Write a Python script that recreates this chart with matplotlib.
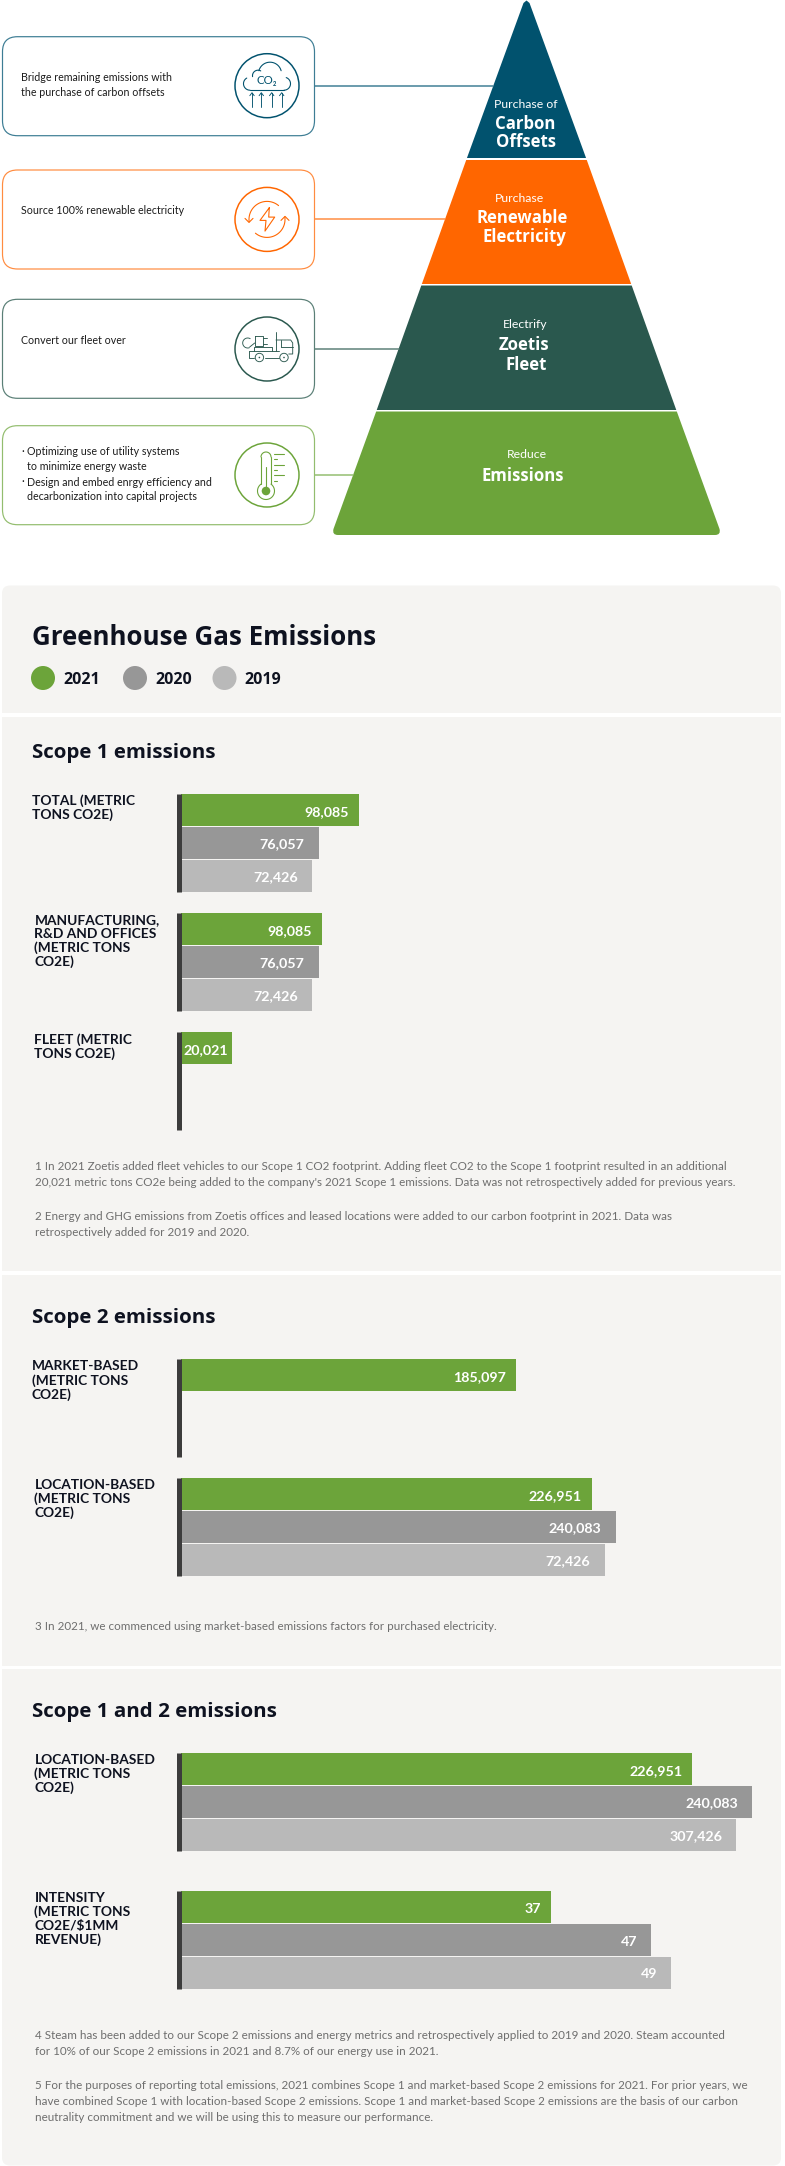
import numpy as np
import matplotlib
matplotlib.use('Agg')
import matplotlib.pyplot as plt
from matplotlib.patches import FancyBboxPatch, Circle, Polygon, PathPatch, Rectangle
from matplotlib.path import Path

W, H = 785, 2166

years = ['2021', '2020', '2019']
year_colors = ['#6ca43a', '#979797', '#b9b9b9']

# bar lengths are read off the picture, printed labels do not always agree with them
s1_total = [98085, 76057, 72426]
s1_total_labels = ['98,085', '76,057', '72,426']
s1_mfg = [78000, 76057, 72426]
s1_mfg_labels = ['98,085', '76,057', '72,426']
s1_fleet = [28200]
s1_fleet_labels = ['20,021']
s2_market = [185097]
s2_market_labels = ['185,097']
s2_location = [226951, 240083, 234000]
s2_location_labels = ['226,951', '240,083', '72,426']
s12_location = [282500, 315500, 306700]
s12_location_labels = ['226,951', '240,083', '307,426']
s12_intensity = [37, 47, 49]
s12_intensity_labels = ['37', '47', '49']

TEAL, ORANGE, DGREEN, GREEN = '#01526e', '#ff6600', '#2a584e', '#6ca43a'
INK = '#0e1220'
NOTE = '#6e6e6e'
PANEL = '#f5f4f2'
HEAD = 'Open Sans'
BODY = 'Lato'


def fs(p):
    return p * 0.72


fig = plt.figure(figsize=(W / 100, H / 100), dpi=100, facecolor='white')
bg = fig.add_axes([0, 0, 1, 1])
bg.set_xlim(0, W)
bg.set_ylim(H, 0)
bg.axis('off')


def line(xs, ys, color, lw=1.1, **kw):
    bg.plot(xs, ys, color=color, lw=fs(lw), solid_capstyle='round', **kw)


def arc(cx, cy, r, a0, a1, color, lw=1.1):
    t = np.radians(np.linspace(a0, a1, 50))
    line(cx + r * np.cos(t), cy - r * np.sin(t), color, lw)


def rbox(x0, y0, x1, y1, r, fc, ec='none', lw=1.2):
    bg.add_patch(FancyBboxPatch((x0 + r, y0 + r), x1 - x0 - 2 * r, y1 - y0 - 2 * r,
                                boxstyle=f'round,pad={r},rounding_size={r}',
                                fc=fc, ec=ec, lw=fs(lw)))


# pyramid
APEX_X = 526.5


def edge(y):
    return 3 + 0.358 * y


def layer(y0, y1, color):
    bg.add_patch(Polygon([(APEX_X - edge(y0), y0), (APEX_X + edge(y0), y0),
                          (APEX_X + edge(y1), y1), (APEX_X - edge(y1), y1)],
                         fc=color, ec='none'))


# top layer has a slightly rounded tip
bg.add_patch(Polygon([(APEX_X - 3, 3), (APEX_X, 0.5), (APEX_X + 3, 3), (APEX_X + edge(158), 158),
                      (APEX_X - edge(158), 158)], fc=TEAL, ec='none'))
layer(160, 284, ORANGE)
layer(285.5, 410, DGREEN)

xl0, xr0 = APEX_X - edge(411.5), APEX_X + edge(411.5)
xl1, xr1 = APEX_X - edge(535), APEX_X + edge(535)
verts = [(xl0, 411.5), (xr0, 411.5), (xr1 - 1.5, 529), (xr1, 535), (xr1 - 6, 535),
         (xl1 + 6, 535), (xl1, 535), (xl1 + 1.5, 529), (xl0, 411.5)]
codes = [Path.MOVETO, Path.LINETO, Path.LINETO, Path.CURVE3, Path.CURVE3,
         Path.LINETO, Path.CURVE3, Path.CURVE3, Path.CLOSEPOLY]
bg.add_patch(PathPatch(Path(verts, codes), fc=GREEN, ec='none'))

pyr_small = [('Purchase of', 526, 104), ('Purchase', 519, 198), ('Electrify', 525.5, 325), ('Reduce', 526.5, 455)]
pyr_big = [('Carbon', 525, 124), ('Offsets', 526, 142), ('Renewable', 522, 218), ('Electricity', 524.5, 237),
           ('Zoetis', 523.5, 345), ('Fleet', 526.5, 365), ('Emissions', 522.5, 476)]
for txt, x, y in pyr_small:
    bg.text(x, y, txt, color='white', fontsize=fs(12.3), family=BODY, ha='center', va='center')
for txt, x, y in pyr_big:
    bg.text(x, y, txt, color='white', fontsize=fs(16.8), family=HEAD, weight='bold', ha='center', va='center')

# callout boxes
boxes = [(36.7, TEAL, '#3d7d94', 85.7), (170, ORANGE, '#ff8c40', 219.4),
         (299.3, DGREEN, '#5a7f76', 349), (425.7, GREEN, '#93bd6e', 475)]
for top, col, soft, cy in boxes:
    rbox(2.5, top, 314.5, top + 99, 15, 'white', soft)
    line([315, APEX_X - edge(cy)], [cy, cy], soft, 1.5)
    bg.add_patch(Circle((267, cy), 32, fc='white', ec=col, lw=fs(1.5)))

box_text = [('Bridge remaining emissions with', 21.3, 77.7), ('the purchase of carbon offsets', 21.3, 93),
            ('Source 100% renewable electricity', 21.3, 211), ('Convert our fleet over', 21.3, 341),
            ('·', 21.5, 451.3), ('Optimizing use of utility systems', 26.7, 451.3),
            ('to minimize energy waste', 26.7, 466.7), ('·', 21.5, 482),
            ('Design and embed enrgy efficiency and', 26.7, 482),
            ('decarbonization into capital projects', 26.7, 497)]
for txt, x, y in box_text:
    bg.text(x, y, txt, color='#1c1c1c', fontsize=fs(10.6), family=BODY, ha='left', va='center')

# CO2 icon
cx, cy = 267, 85.7
line([cx - 17, cx + 17], [cy + 4.5, cy + 4.5], TEAL)
arc(cx - 17, cy - 2, 6.5, 270, 120, TEAL)
arc(cx + 17, cy - 2, 6.5, -90, 70, TEAL)
arc(cx - 9, cy - 10, 5.5, 190, 60, TEAL)
arc(cx + 3, cy - 12, 11.5, 165, 15, TEAL)
bg.text(cx, cy - 5.7, 'CO₂', color=TEAL, fontsize=fs(11.5), family=[BODY, 'DejaVu Sans'], ha='center', va='center')
for dx in (-15, -5.7, 4.7, 14.7):
    line([cx + dx, cx + dx], [cy + 7, cy + 21.7], TEAL, 0.9)
    line([cx + dx - 2.2, cx + dx, cx + dx + 2.2], [cy + 10, cy + 7, cy + 10], TEAL, 0.9)

# bolt icon
cx, cy = 267, 219.4
bolt = np.array([(2.3, -11.7), (-7, 1), (-1, 1), (-2, 11.7), (7.7, -2.3), (1.7, -2.3), (2.3, -11.7)])
line(cx + bolt[:, 0], cy + bolt[:, 1], ORANGE)
arc(cx, cy, 18, 50, 188, ORANGE)
arc(cx, cy, 18, 230, 368, ORANGE)
line([cx - 22, cx - 18, cx - 14], [cy - 1, cy + 3, cy - 1], ORANGE)
line([cx + 14, cx + 18, cx + 22], [cy + 1, cy - 3, cy + 1], ORANGE)

# truck icon
cx, cy = 267.7, 349
line([cx + 8.3, cx + 8.3], [cy - 17, cy + 2], DGREEN, 0.9)
line([cx + 8.3, cx + 23, cx + 25, cx + 25, cx + 21], [cy - 9, cy - 9, cy - 6, cy + 5, cy + 5], DGREEN, 0.9)
line([cx + 13, cx + 25], [cy - 2, cy - 2], DGREEN, 0.9)
line([cx + 13, cx + 13], [cy - 9, cy - 2], DGREEN, 0.9)
line([cx - 19, cx - 19, cx - 14], [cy + 2, cy + 9, cy + 9], DGREEN, 0.9)
line([cx - 19, cx + 11], [cy + 2, cy + 2], DGREEN, 0.9)
line([cx - 14, cx - 14, cx + 4, cx + 4], [cy + 2, cy - 2, cy - 2, cy + 2], DGREEN, 0.9)
line([cx - 3, cx + 11], [cy + 9, cy + 9], DGREEN, 0.9)
for dx in (-8.3, 16.3):
    bg.add_patch(Circle((cx + dx, cy + 8.5), 4.2, fc='white', ec=DGREEN, lw=fs(0.9)))
    bg.add_patch(Circle((cx + dx, cy + 8.5), 0.8, fc=DGREEN, ec='none'))
line([cx - 13, cx - 5, cx - 5, cx - 13, cx - 13], [cy - 13, cy - 13, cy - 3, cy - 3, cy - 13], DGREEN, 0.9)
line([cx - 5, cx - 1], [cy - 11, cy - 11], DGREEN, 0.9)
line([cx - 5, cx - 1], [cy - 5, cy - 5], DGREEN, 0.9)
arc(cx - 20, cy - 6, 5, 60, 290, DGREEN, 0.9)
line([cx - 18, cx - 13], [cy - 2, cy - 6], DGREEN, 0.9)

# thermometer icon
cx, cy = 267, 475
line([cx - 6, cx - 6], [cy - 18, cy + 9], GREEN)
line([cx + 4, cx + 4], [cy - 18, cy + 9], GREEN)
arc(cx - 1, cy - 18, 5, 0, 180, GREEN)
arc(cx - 1, cy + 16, 8.5, 126, 414, GREEN)
bg.add_patch(Circle((cx - 1, cy + 16), 4.3, fc=GREEN, ec='none'))
line([cx - 1, cx - 1], [cy - 8, cy + 12], GREEN)
for dy, x1 in zip((-21, -15.7, -10.3, -5, 0.3, 5.7), (17, 10, 17, 10, 17, 10)):
    line([cx + 7, cx + x1], [cy + dy, cy + dy], GREEN)

# panels
rbox(2, 585.5, 781, 640, 8, PANEL)
bg.add_patch(Rectangle((2, 610), 779, 102.5, fc=PANEL, ec='none'))
bg.add_patch(Rectangle((2, 716.5), 779, 554.5, fc=PANEL, ec='none'))
bg.add_patch(Rectangle((2, 1275), 779, 390.5, fc=PANEL, ec='none'))
rbox(2, 1690, 781, 2165.5, 8, PANEL)
bg.add_patch(Rectangle((2, 1669), 779, 40, fc=PANEL, ec='none'))

bg.text(31.5, 637.5, 'Greenhouse Gas Emissions', color=INK, fontsize=fs(25.9), family=HEAD, weight='bold', va='center')
for txt, y in [('Scope 1 emissions', 753), ('Scope 2 emissions', 1318), ('Scope 1 and 2 emissions', 1712)]:
    bg.text(31.5, y, txt, color=INK, fontsize=fs(20.5), family=HEAD, weight='bold', va='center')

for yr, col, cxl, xt in zip(years, year_colors, (43, 135, 224.5), (63, 155, 244.5)):
    bg.add_patch(Circle((cxl, 678), 12, fc=col, ec='none'))
    bg.text(xt, 679.5, yr, color=INK, fontsize=fs(16), family=HEAD, weight='bold', va='center')

X0 = 181
GROUP_H = 98
TONS_SCALE = 0.00181  # px per metric ton
INT_SCALE = 10.0  # px per intensity unit


def group(top, values, labels, insets, scale, name_lines, name_x, name_y):
    w = 590
    ax = fig.add_axes([X0 / W, 1 - (top + GROUP_H) / H, w / W, GROUP_H / H])
    ax.patch.set_alpha(0)
    ax.set_xlim(0, w / scale)
    ax.set_ylim(2.5, -0.5)
    ax.barh(range(len(values)), values, height=0.97, color=year_colors[:len(values)])
    for s in ('top', 'right', 'bottom'):
        ax.spines[s].set_visible(False)
    ax.spines['left'].set_position(('outward', fs(2.5)))
    ax.spines['left'].set_linewidth(fs(5))
    ax.spines['left'].set_color('#3c3c3c')
    ax.spines['left'].set_capstyle('butt')
    ax.set_xticks([])
    ax.set_yticks([])
    for i, (v, lab, ins) in enumerate(zip(values, labels, insets)):
        ax.annotate(lab, (v, i), xytext=(-fs(ins), -fs(1.5)), textcoords='offset points', ha='right', va='center',
                    color='white', fontsize=fs(14.2), family=BODY, weight='bold')
    for i, txt in enumerate(name_lines):
        bg.text(name_x, name_y + 1 + i * 14, txt, color=INK, fontsize=fs(13.8), family=BODY, weight='bold', va='center')


std = (10, 14, 14)
group(794, s1_total, s1_total_labels, std, TONS_SCALE, ['TOTAL (METRIC', 'TONS CO2E)'], 31.5, 800)
group(913, s1_mfg, s1_mfg_labels, std, TONS_SCALE,
      ['MANUFACTURING,', 'R&D AND OFFICES', '(METRIC TONS', 'CO2E)'], 34.5, 919)
group(1032, s1_fleet, s1_fleet_labels, (4,), TONS_SCALE, ['FLEET (METRIC', 'TONS CO2E)'], 34.5, 1038.3)
group(1359, s2_market, s2_market_labels, std, TONS_SCALE, ['MARKET-BASED', '(METRIC TONS', 'CO2E)'], 31.5, 1365.3)
group(1478, s2_location, s2_location_labels, std, TONS_SCALE, ['LOCATION-BASED', '(METRIC TONS', 'CO2E)'], 34.5, 1484)
group(1753, s12_location, s12_location_labels, std, TONS_SCALE, ['LOCATION-BASED', '(METRIC TONS', 'CO2E)'], 34.5, 1759)
group(1891, s12_intensity, s12_intensity_labels, std, INT_SCALE,
      ['INTENSITY', '(METRIC TONS', 'CO2E/$1MM', 'REVENUE)'], 34.5, 1897)

notes = [
    ('1 In 2021 Zoetis added fleet vehicles to our Scope 1 CO2 footprint. Adding fleet CO2 to the Scope 1 footprint resulted in an additional', 1167),
    ("20,021 metric tons CO2e being added to the company's 2021 Scope 1 emissions. Data was not retrospectively added for previous years.", 1183),
    ('2 Energy and GHG emissions from Zoetis offices and leased locations were added to our carbon footprint in 2021. Data was', 1217),
    ('retrospectively added for 2019 and 2020.', 1233),
    ('3 In 2021, we commenced using market-based emissions factors for purchased electricity.', 1626),
    ('4 Steam has been added to our Scope 2 emissions and energy metrics and retrospectively applied to 2019 and 2020. Steam accounted', 2035.7),
    ('for 10% of our Scope 2 emissions in 2021 and 8.7% of our energy use in 2021.', 2051.7),
    ('5 For the purposes of reporting total emissions, 2021 combines Scope 1 and market-based Scope 2 emissions for 2021. For prior years, we', 2085.7),
    ('have combined Scope 1 with location-based Scope 2 emissions. Scope 1 and market-based Scope 2 emissions are the basis of our carbon', 2101.7),
    ('neutrality commitment and we will be using this to measure our performance.', 2117.7),
]
for txt, y in notes:
    bg.text(35, y, txt, color=NOTE, fontsize=fs(11.65), family=BODY, va='center')

fig.savefig('out.png', dpi=100)
